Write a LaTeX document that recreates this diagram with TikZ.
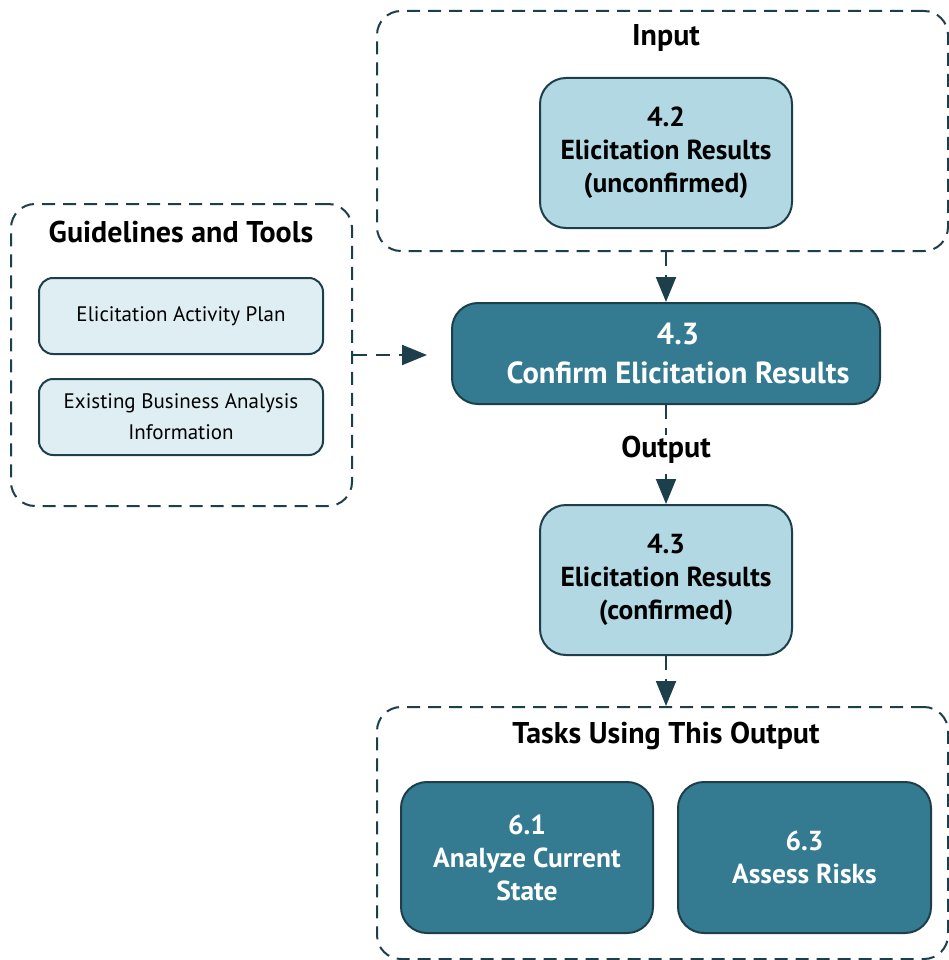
\documentclass[tikz,border=0pt]{standalone}
\usepackage{fontspec}
\setmainfont{PT Sans}
\usetikzlibrary{arrows.meta}
\definecolor{dk}{HTML}{1C3F4B}
\definecolor{lb}{HTML}{B2D8E4}
\definecolor{pb}{HTML}{DFEEF3}
\definecolor{tl}{HTML}{347B92}
\begin{document}
\begin{tikzpicture}[x=1pt,y=1pt,
  grp/.style={draw=dk, line width=2pt, dash pattern=on 13pt off 8pt, rounded corners=24pt, anchor=north west, inner sep=0pt},
  ttl/.style={font=\bfseries\fontsize{30}{34}\selectfont, text=black, inner sep=1pt},
  lbox/.style={draw=dk, line width=2pt, fill=lb, rounded corners=26pt, align=center, minimum width=252pt, minimum height=150pt, font=\bfseries\fontsize{27.5}{33}\selectfont},
  tbox/.style={draw=dk, line width=2pt, fill=tl, rounded corners=26pt, align=center, text=white, font=\bfseries\fontsize{27.5}{33}\selectfont},
  pbox/.style={draw=dk, line width=2pt, fill=pb, rounded corners=14pt, align=center, minimum width=284pt, minimum height=76pt, font=\fontsize{21}{31}\selectfont},
  conn/.style={draw=dk, line width=2pt, dash pattern=on 14pt off 9pt, -{Triangle[length=25pt,width=20pt]}}
]
\useasboundingbox (0,0) rectangle (949,-960);
% groups
\node[grp, minimum width=571pt, minimum height=240pt] (inp) at (376,-10) {};
\node[grp, minimum width=341pt, minimum height=302pt] (gt) at (10,-203) {};
\node[grp, minimum width=571pt, minimum height=252pt] (tk) at (376,-706) {};
% titles
\node[ttl] (tinp) at (666,-38) {Input};
\node[ttl] (tgt) at (181,-232) {Guidelines and Tools};
\node[ttl] (ttk) at (666,-736) {Tasks Using This Output};
% boxes
\node[lbox] (r42) at (666,-153) {4.2\\Elicitation Results\\(unconfirmed)};
\node[tbox, minimum width=428pt, minimum height=101pt, font=\bfseries\fontsize{30.5}{39}\selectfont] (c43) at (666,-353.5) {\hspace*{24pt}4.3\\\hspace*{24pt}Confirm Elicitation Results};
\node[lbox] (r43) at (666,-580) {4.3\\Elicitation Results\\(confirmed)};
\node[pbox] (eap) at (181,-316) {Elicitation Activity Plan};
\node[pbox] (eba) at (181,-417) {Existing Business Analysis\\Information};
\node[tbox, minimum width=252pt, minimum height=151pt] (t61) at (527,-857.5) {6.1\\Analyze Current\\State};
\node[tbox, minimum width=253pt, minimum height=151pt] (t63) at (804.5,-857.5) {6.3\\Assess Risks};
% connectors
\draw[conn] (inp.south -| r42.south) -- (c43.north);
\draw[conn, shorten >=24pt] (gt.east) -- (gt.east -| c43.west);
\draw[conn] (c43.south) -- (r43.north);
\node[ttl, fill=white] (out) at (666,-450) {Output};
\draw[conn] (r43.south) -- (tk.north -| r43.south);
\end{tikzpicture}
\end{document}
